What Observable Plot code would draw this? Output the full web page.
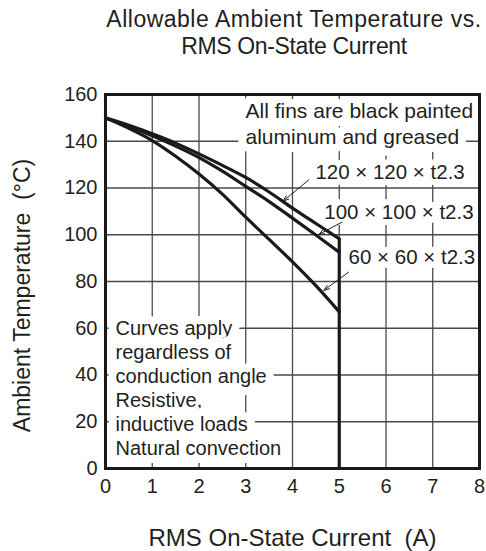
<!DOCTYPE html>
<html><head><meta charset="utf-8">
<script src="https://cdn.jsdelivr.net/npm/d3@7"></script>
<script src="https://cdn.jsdelivr.net/npm/@observablehq/plot@0.6"></script>
<style>
html,body{margin:0;padding:0;background:#fff;}
body{width:486px;height:551px;overflow:hidden;font-family:"Liberation Sans",Arial,sans-serif;color:#231f20;}
#title{box-sizing:border-box;padding:6px 0 0 102px;height:61px;text-align:center;font-size:23px;line-height:26.5px;white-space:nowrap;}
#title .l1{letter-spacing:0.5px;}
#title .l2{letter-spacing:-0.35px;}
svg{display:block;}
</style></head><body>
<div id="title"><span class="l1">Allowable Ambient Temperature vs.</span><br><span class="l2">RMS On-State Current</span></div>
<div id="chart"></div>
<script>
// RMS on-state current (A)
const current = [0, 0.5, 1, 1.5, 2, 2.5, 3, 3.5, 4, 4.5, 5];
// Allowable ambient temperature (°C) per fin size
const fin120 = [150, 146.8, 143.2, 139.2, 134.6, 129.7, 124.5, 118.3, 111.4, 104.8, 98.3];
const fin100 = [150, 146.4, 142.3, 137.9, 133.0, 127.2, 120.7, 114.2, 107.1, 99.9, 92.5];
const fin60  = [150, 145.5, 140.3, 133.6, 126.0, 117.4, 107.5, 98.0, 88.4, 78.2, 67.0];
const seriesNames = ["120 × 120 × t2.3", "100 × 100 × t2.3", "60 × 60 × t2.3"];
const maxCurrent = 5;
const xTicks = [0, 1, 2, 3, 4, 5, 6, 7, 8];
const yTicks = [0, 20, 40, 60, 80, 100, 120, 140, 160];
const titleX = "RMS On-State Current\u00a0 (A)";
const titleY = "Ambient Temperature\u00a0 (°C)";
const noteFins = "All fins are black painted\naluminum and greased";
const noteConditions = "Curves apply\nregardless of\nconduction angle\nResistive,\ninductive loads\nNatural convection";
// series label anchors and leader lines (data units)
const labelX = [4.49, 4.68, 5.2];
const labelY = [126.5, 109.7, 90.2];
const leaderFrom = [[4.35, 123.5], [5.06, 105.4], [5.2, 84.0]];
const leaderTo = [[3.80, 114.4], [4.56, 100.1], [4.67, 76.2]];

const allSeries = [fin120, fin100, fin60];
const rows = allSeries.flatMap((vals, i) => vals.map((t, j) => ({series: seriesNames[i], current: current[j], temp: t})));
const labels = seriesNames.map((name, i) => ({name, x: labelX[i], y: labelY[i]}));
const leaders = leaderFrom.map((f, i) => ({x1: f[0], y1: f[1], x2: leaderTo[i][0], y2: leaderTo[i][1]}));
const finNote = [{text: noteFins, x: 2.995, y: 147.8}];
const condNote = [{text: noteConditions, x: 0.214, y: 34.65}];

const ink = "#231f20";
const halo = (w) => ({stroke: "white", strokeWidth: w, strokeLinejoin: "round", paintOrder: "stroke", fill: ink});

const chart = Plot.plot({
  width: 486,
  height: 490,
  marginTop: 33,
  marginBottom: 83,
  marginLeft: 105,
  marginRight: 7,
  style: {fontFamily: "'Liberation Sans', Arial, sans-serif", fontSize: "20px", color: ink, background: "white", overflow: "visible"},
  x: {domain: [0, 8]},
  y: {domain: [0, 160]},
  marks: [
    Plot.gridX(xTicks, {stroke: "#4a4a4a", strokeOpacity: 1, strokeWidth: 1.3}),
    Plot.gridY(yTicks, {stroke: "#4a4a4a", strokeOpacity: 1, strokeWidth: 1.3}),
    Plot.axisX(xTicks, {tickSize: 0, tickPadding: 10, fontSize: 20, label: null, fill: ink}),
    Plot.axisY(yTicks, {tickSize: 0, tickPadding: 8, fontSize: 20, label: null, fill: ink}),
    Plot.text(finNote, {x: "x", y: "y", text: "text", textAnchor: "start", lineAnchor: "middle", lineHeight: 1.2, fontSize: 21, ...halo(16)}),
    Plot.text(condNote, {x: "x", y: "y", text: "text", textAnchor: "start", lineAnchor: "middle", lineHeight: 1.2, fontSize: 20, ...halo(16)}),
    Plot.text(labels, {x: "x", y: "y", text: "name", textAnchor: "start", fontSize: 20.5, ...halo(12)}),
    Plot.line(rows, {x: "current", y: "temp", z: "series", curve: "monotone-x", stroke: "#1a1a1a", strokeWidth: 3.2}),
    Plot.ruleX([maxCurrent], {y1: 0, y2: fin120[fin120.length - 1], stroke: "#1a1a1a", strokeWidth: 3.2}),
    Plot.arrow(leaders, {x1: "x1", y1: "y1", x2: "x2", y2: "y2", stroke: ink, strokeWidth: 1, headLength: 9, headAngle: 40}),
    Plot.frame({stroke: "#1a1a1a", strokeWidth: 3}),
    Plot.text([titleY], {frameAnchor: "left", textAnchor: "middle", lineAnchor: "middle", dx: -83, dy: 14, rotate: -90, fontSize: 23, fill: ink}),
    Plot.text([titleX], {frameAnchor: "bottom", textAnchor: "middle", lineAnchor: "middle", dy: 70, fontSize: 24, fill: ink})
  ]
});
document.getElementById("chart").appendChild(chart);
</script>
</body></html>
